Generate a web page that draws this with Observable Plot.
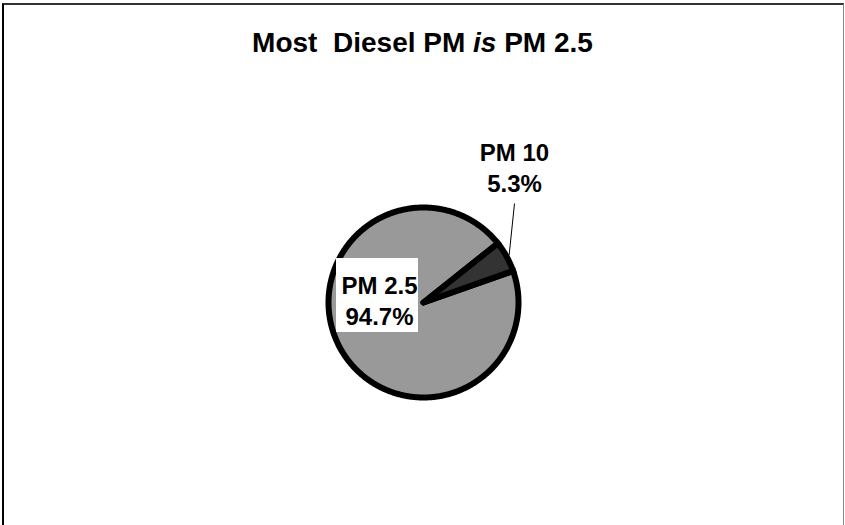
<!DOCTYPE html>
<html>
<head>
<meta charset="utf-8">
<script src="https://cdn.jsdelivr.net/npm/d3@7"></script>
<script src="https://cdn.jsdelivr.net/npm/@observablehq/plot@0.6"></script>
<style>
  html, body { margin: 0; padding: 0; background: #fff; }
  #wrap { position: relative; width: 845px; height: 525px; overflow: hidden; }
  #frame { position: absolute; left: 2px; top: 3px; width: 842px; height: 600px; box-sizing: border-box;
           border-top: 2px solid #333; border-left: 2px solid #000; border-right: 1px solid #888; }
  #title { position: absolute; left: 0; top: 29px; width: 845px; text-align: center; white-space: pre;
           font: bold 28px "Liberation Sans", Arial, sans-serif; line-height: 1; color: #000; }
  #chart { position: absolute; left: 0; top: 70px; }
</style>
</head>
<body>
<div id="wrap">
  <div id="frame"></div>
  <div id="title">Most  Diesel PM <i>is</i> PM 2.5</div>
  <div id="chart"></div>
</div>
<script>
// ---- data ----
const categories = ["PM 2.5", "PM 10"];
const values = [94.7, 5.3];
const colors = ["#999999", "#333333"];

// ---- layout (pixels) ----
const W = 845, H = 455;
const k = 95;            // pixels per unit radius
const cx = 423, cy = 232; // pie centre inside the svg
const startDeg = 70.6;   // rotation of first slice (clockwise from 12 o'clock)
const labelOffsets = [[-44, -2.5], [91, -136]];      // label centre relative to pie centre (px)
const boxPx = {left: -87, right: -5, top: -44, bottom: 30}; // white box behind the PM 2.5 label
const leaderStartPx = [91, -99];
const labelSize = 24;

const toUnitX = px => px / k;
const toUnitY = py => -py / k;

const a0 = startDeg * Math.PI / 180;
const arcs = d3.pie().sort(null).startAngle(a0).endAngle(a0 + 2 * Math.PI)(values);

const slices = arcs.map((p, i) => {
  const pts = [{x: 0, y: 0}];
  const n = Math.max(4, Math.ceil((p.endAngle - p.startAngle) / (Math.PI / 360)));
  for (let j = 0; j <= n; j++) {
    const a = p.startAngle + (p.endAngle - p.startAngle) * j / n;
    pts.push({x: Math.sin(a), y: Math.cos(a)});
  }
  pts.push({x: 0, y: 0});
  return {category: categories[i], color: colors[i], pts};
});

const labelData = categories.map((c, i) => ({
  text: `${c}\n${values[i]}%`,
  x: toUnitX(labelOffsets[i][0]),
  y: toUnitY(labelOffsets[i][1])
}));

const mid = (arcs[1].startAngle + arcs[1].endAngle) / 2;
const leader = [{
  x1: toUnitX(leaderStartPx[0]), y1: toUnitY(leaderStartPx[1]),
  x2: Math.sin(mid) * 1.03, y2: Math.cos(mid) * 1.03
}];

const box = [{
  x1: toUnitX(boxPx.left), x2: toUnitX(boxPx.right),
  y1: toUnitY(boxPx.bottom), y2: toUnitY(boxPx.top)
}];

const chart = Plot.plot({
  width: W, height: H, margin: 0,
  style: {background: "transparent"},
  x: {domain: [-cx / k, (W - cx) / k], axis: null},
  y: {domain: [-(H - cy) / k, cy / k], axis: null},
  marks: [
    ...slices.map(s => Plot.line(s.pts, {
      x: "x", y: "y", fill: s.color, stroke: "#000", strokeWidth: 6,
      strokeLinejoin: "miter", strokeMiterlimit: 4, curve: "linear"
    })),
    Plot.link(leader, {x1: "x1", y1: "y1", x2: "x2", y2: "y2", stroke: "#000", strokeWidth: 1}),
    Plot.rect(box, {x1: "x1", x2: "x2", y1: "y1", y2: "y2", fill: "#fff"}),
    Plot.text(labelData, {
      x: "x", y: "y", text: "text", fontSize: labelSize, fontWeight: "bold",
      fontFamily: "Liberation Sans, Arial, sans-serif", fill: "#000", lineHeight: 31 / labelSize
    })
  ]
});
document.getElementById("chart").appendChild(chart);
</script>
</body>
</html>
